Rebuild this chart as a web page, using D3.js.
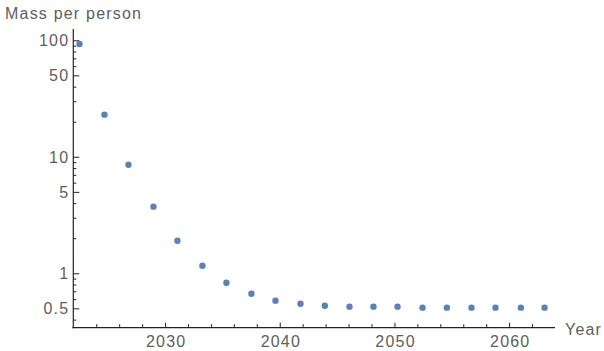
<!DOCTYPE html>
<html>
<head>
<meta charset="utf-8">
<script src="https://cdn.jsdelivr.net/npm/d3@7"></script>
<style>
  html, body { margin: 0; padding: 0; background: #fff; }
  svg { display: block; }
  text { font-family: "Liberation Sans", Arial, sans-serif; font-size: 16px; fill: #5e5e5e; letter-spacing: 1.2px; }
</style>
</head>
<body>
<div id="chart"></div>
<script>
// values
const years = [2022.54, 2024.72, 2026.81, 2028.99, 2031.08, 2033.26, 2035.35, 2037.53, 2039.63, 2041.81,
               2043.93, 2046.08, 2048.17, 2050.27, 2052.45, 2054.57, 2056.72, 2058.81, 2061.02, 2063.09];
const massPerPerson = [92.9, 23.0, 8.55, 3.73, 1.90, 1.16, 0.83, 0.668, 0.582, 0.548,
                       0.527, 0.517, 0.517, 0.517, 0.507, 0.507, 0.507, 0.507, 0.507, 0.507];
const xTicks = [2030, 2040, 2050, 2060];
const yTicks = [0.5, 1, 5, 10, 50, 100];
const yTickLabels = ["0.5", "1", "5", "10", "50", "100"];

const w = 604, h = 351;
const padLeft = 73.3, padRight = 555, padTop = 29, padBottom = 327.7;

const svg = d3.select("#chart").append("svg")
  .attr("width", w)
  .attr("height", h);

const xScale = d3.scaleLinear()
  .domain([2022, 2064])
  .range([padLeft, padRight]);

const yScale = d3.scaleLog()
  .domain([0.341, 125])
  .range([padBottom, padTop]);

// minor ticks on the log axis: 2..9 of each decade
const yMinor = [];
[0.1, 1, 10, 100].forEach(d => {
  for (let k = 1; k <= 9; k++) {
    const v = d * k;
    if (v >= 0.341 && v <= 125 && !yTicks.includes(+v.toFixed(6))) yMinor.push(v);
  }
});
const xMinor = d3.range(2024, 2063, 2).filter(v => !xTicks.includes(v));

const axisColor = "#222";

// y axis
const yAxis = d3.axisRight(yScale)
  .tickValues(yTicks)
  .tickSize(6)
  .tickFormat((d, i) => yTickLabels[i]);

svg.append("g")
  .attr("transform", "translate(" + padLeft + ",0)")
  .call(yAxis)
  .call(g => g.select(".domain").remove())
  .call(g => g.selectAll(".tick line").attr("stroke", axisColor))
  .call(g => g.selectAll(".tick text")
    .attr("x", -4)
    .attr("dy", "0.35em")
    .attr("text-anchor", "end")
    .attr("fill", "#5e5e5e"));

svg.append("g")
  .attr("transform", "translate(" + padLeft + ",0)")
  .call(d3.axisRight(yScale).tickValues(yMinor).tickSize(3).tickFormat(""))
  .call(g => g.select(".domain").remove())
  .call(g => g.selectAll(".tick line").attr("stroke", axisColor));

svg.append("line")
  .attr("x1", padLeft).attr("x2", padLeft)
  .attr("y1", padTop).attr("y2", padBottom + 0.5)
  .attr("stroke", axisColor).attr("stroke-width", 1.2);

// x axis
const xAxis = d3.axisTop(xScale)
  .tickValues(xTicks)
  .tickSize(5)
  .tickFormat(d3.format("d"));

svg.append("g")
  .attr("transform", "translate(0," + padBottom + ")")
  .call(xAxis)
  .call(g => g.select(".domain").remove())
  .call(g => g.selectAll(".tick line").attr("stroke", axisColor))
  .call(g => g.selectAll(".tick text")
    .attr("y", 19)
    .attr("dy", 0)
    .attr("dx", 0.6)
    .attr("fill", "#5e5e5e"));

svg.append("g")
  .attr("transform", "translate(0," + padBottom + ")")
  .call(d3.axisTop(xScale).tickValues(xMinor).tickSize(3.5).tickFormat(""))
  .call(g => g.select(".domain").remove())
  .call(g => g.selectAll(".tick line").attr("stroke", axisColor));

svg.append("line")
  .attr("x1", padLeft - 1).attr("x2", padRight)
  .attr("y1", padBottom).attr("y2", padBottom)
  .attr("stroke", axisColor).attr("stroke-width", 1.2);

// points
svg.selectAll("circle.pt")
  .data(years)
  .join("circle")
    .attr("class", "pt")
    .attr("cx", d => xScale(d))
    .attr("cy", (d, i) => yScale(massPerPerson[i]))
    .attr("r", 3.2)
    .attr("fill", "#5e81b5");

// axis labels
svg.append("text")
  .attr("x", 5)
  .attr("y", 18.5)
  .text("Mass per person");

svg.append("text")
  .attr("x", 565)
  .attr("y", 334.5)
  .text("Year");
</script>
</body>
</html>
